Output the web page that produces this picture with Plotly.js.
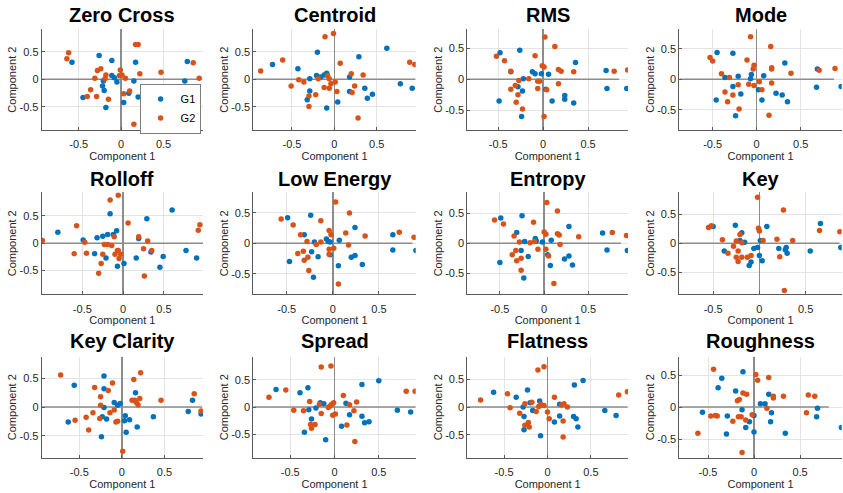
<!DOCTYPE html>
<html>
<head>
<meta charset="utf-8">
<script src="https://cdn.plot.ly/plotly-3.0.1.min.js"></script>
<style>html,body{margin:0;padding:0;background:#fff;}#chart{width:843px;height:493px;}</style>
</head>
<body>
<div id="chart"></div>
<script>
const featureTitles = ['Zero Cross','Centroid','RMS','Mode','Rolloff','Low Energy','Entropy','Key','Key Clarity','Spread','Flatness','Roughness'];
const groupNames = ['G1','G2'];
const tickValues = [-0.5, 0, 0.5];
const tickLabels = ['-0.5', '0', '0.5'];

const zeroCrossG1 = [[-0.58,0.31],[-0.26,0.43],[-0.11,0.34],[0.17,0.31],[0.78,0.32],[-0.11,0.07],[-0.08,0.03],[-0.05,-0.05],[-0.21,-0.03],[-0.22,-0.12],[-0.2,-0.2],[-0.45,-0.33],[-0.18,-0.51],[0.03,-0.42],[0.09,-0.25],[0.15,-0.03],[0.2,-0.32],[0.35,-0.19],[0.35,-0.31],[0.75,-0.03],[0.91,-0.14]];
const zeroCrossG2 = [[-0.62,0.48],[-0.64,0.37],[0.17,0.63],[0.2,0.63],[0.85,0.3],[-0.24,0.19],[-0.28,0.16],[-0.01,0.17],[-0.18,0.08],[-0.02,0.07],[0.01,0.08],[0.22,0.1],[0.47,0.13],[-0.31,0.02],[-0.19,0.01],[0.05,0.02],[0.92,0.02],[-0.36,-0.19],[-0.4,-0.31],[-0.29,-0.31],[-0.15,-0.36],[0.03,-0.26],[0.1,-0.21],[0.15,-0.81]];
const centroidG1 = [[-0.73,0.27],[-0.43,0.19],[-0.2,0.49],[0.29,0.41],[0.62,0.56],[-0.29,0.01],[-0.21,0.07],[-0.16,0.04],[-0.12,0.08],[-0.09,0.11],[0.18,0.04],[-0.29,-0.21],[-0.32,-0.37],[-0.09,-0.52],[0.04,-0.41],[0.18,-0.22],[0.36,-0.16],[0.39,-0.34],[0.45,-0.27],[0.78,-0.08],[0.92,-0.16]];
const centroidG2 = [[-0.87,0.15],[-0.61,0.35],[-0.11,0.77],[-0.01,0.83],[0.07,0.29],[0.89,0.31],[0.95,0.27],[-0.42,-0.01],[-0.36,-0.05],[-0.51,-0.12],[-0.19,0.01],[-0.08,0.07],[-0.06,0.01],[-0.04,-0.08],[-0.06,-0.16],[-0.12,-0.15],[0.01,-0.05],[0.03,-0.22],[0.2,0.1],[0.34,0.08],[0.24,-0.12],[0.21,-0.24],[-0.22,-0.28],[-0.3,-0.3],[-0.3,-0.49],[0.28,-0.7]];
const rmsG1 = [[-0.48,0.43],[-0.26,0.47],[-0.36,0.12],[-0.12,0.12],[-0.09,0.09],[-0.02,0.09],[0.06,0.08],[0.36,0.27],[0.7,0.14],[-0.22,0.01],[-0.28,-0.12],[-0.23,-0.19],[-0.49,-0.35],[-0.24,-0.6],[0.03,-0.16],[0.1,-0.35],[0.24,-0.26],[0.24,-0.32],[0.34,-0.38],[0.71,-0.15],[0.93,-0.15]];
const rmsG2 = [[-0.52,0.37],[-0.43,0.3],[0.02,0.68],[0.13,0.53],[-0.09,0.38],[-0.01,0.22],[0.01,0.2],[0.17,0.16],[0.2,0.13],[0.34,0.12],[0.79,0.13],[0.94,0.15],[-0.36,0.13],[-0.16,0.01],[-0.27,-0.02],[-0.06,-0.03],[-0.04,-0.03],[-0.06,-0.15],[-0.36,-0.16],[-0.31,-0.1],[-0.28,-0.25],[-0.3,-0.37],[-0.23,-0.48],[0.04,-0.17],[0.17,-0.07],[0.01,-0.6]];
const modeG1 = [[-0.45,0.44],[-0.27,0.43],[0.32,0.27],[0.69,0.17],[-0.36,0.03],[-0.21,0.05],[-0.06,0.08],[-0.07,0.01],[0.08,0.06],[-0.27,-0.12],[-0.18,-0.24],[0.02,-0.17],[0.06,-0.34],[0.22,-0.23],[0.29,-0.26],[0.35,-0.37],[0.68,-0.13],[0.96,-0.12],[-0.46,-0.34],[-0.24,-0.6]];
const modeG2 = [[-0.53,0.36],[-0.5,0.3],[-0.07,0.7],[0.16,0.54],[-0.11,0.32],[-0.03,0.23],[-0.04,0.17],[0.17,0.19],[0.17,0.17],[0.39,0.1],[0.71,0.15],[0.89,0.18],[-0.4,0.09],[-0.31,0.03],[0.03,-0.04],[0.17,-0.06],[-0.21,-0.09],[-0.09,-0.08],[-0.03,-0.1],[0.06,-0.17],[-0.36,-0.21],[-0.27,-0.26],[-0.33,-0.37],[-0.2,-0.49],[0.14,-0.59]];
const rolloffG1 = [[-0.8,0.2],[-0.49,0.06],[-0.32,0.1],[-0.25,0.13],[-0.19,0.16],[-0.12,0.16],[-0.08,0.23],[-0.16,0.54],[0.29,0.45],[0.6,0.61],[0.19,0.09],[-0.35,-0.19],[-0.21,-0.27],[-0.07,-0.42],[0.01,-0.37],[0.16,-0.27],[0.34,-0.16],[0.49,-0.24],[0.45,-0.44],[0.77,-0.13],[0.9,-0.27]];
const rolloffG2 = [[-0.99,0.05],[-0.57,0.32],[-0.06,0.88],[-0.16,0.79],[0.06,0.37],[0.19,0.12],[0.3,0.04],[0.94,0.34],[0.92,0.24],[-0.47,0.02],[-0.11,0.12],[-0.23,-0.02],[-0.14,-0.04],[-0.19,-0.02],[-0.07,-0.13],[-0.06,-0.13],[-0.1,-0.2],[-0.03,-0.2],[-0.05,-0.28],[-0.6,-0.19],[-0.45,-0.18],[-0.25,-0.2],[-0.27,-0.37],[-0.3,-0.55],[0.25,-0.1],[0.35,-0.13],[0.26,-0.6]];
const lowEnergyG1 = [[-0.49,0.42],[-0.24,0.46],[-0.31,0.14],[0.24,0.26],[0.65,0.14],[-0.07,0.07],[-0.05,0.03],[-0.03,0.02],[-0.2,0.02],[0.07,0.05],[-0.23,-0.14],[-0.16,-0.22],[-0.03,-0.19],[-0.47,-0.3],[-0.21,-0.56],[0.06,-0.37],[0.2,-0.23],[0.24,-0.2],[0.32,-0.35],[0.65,-0.11],[0.9,-0.12]];
const lowEnergyG2 = [[-0.56,0.4],[-0.43,0.3],[0.03,0.68],[0.18,0.5],[-0.13,0.37],[-0.04,0.21],[-0.02,0.14],[0.14,0.17],[0.35,0.12],[0.72,0.18],[0.88,0.1],[-0.35,0.14],[-0.28,0.03],[-0.18,-0.02],[-0.13,0.02],[0.17,-0.03],[0.01,-0.08],[-0.04,-0.1],[-0.04,-0.18],[-0.32,-0.13],[-0.38,-0.17],[-0.27,-0.23],[-0.31,-0.28],[-0.26,-0.45],[0.06,-0.67]];
const entropyG1 = [[-0.49,0.42],[-0.25,0.46],[-0.31,0.18],[0.28,0.28],[0.66,0.17],[-0.22,0.03],[-0.1,0.08],[-0.09,0.04],[-0.02,0.02],[0.08,0.05],[-0.26,-0.12],[-0.18,-0.22],[0.04,-0.19],[-0.5,-0.32],[-0.23,-0.58],[0.07,-0.37],[0.23,-0.26],[0.28,-0.21],[0.32,-0.36],[0.71,-0.11],[0.94,-0.12]];
const entropyG2 = [[-0.56,0.39],[-0.46,0.32],[0.03,0.68],[0.15,0.54],[-0.12,0.35],[0,0.19],[0.02,0.15],[0.15,0.16],[0.17,0.14],[0.39,0.11],[0.77,0.18],[0.93,0.13],[-0.34,0.12],[-0.28,0.02],[-0.16,0.01],[-0.11,0.03],[0.18,-0.02],[0.02,-0.1],[-0.07,-0.1],[0.05,-0.21],[-0.32,-0.12],[-0.36,-0.19],[-0.26,-0.25],[-0.31,-0.29],[-0.26,-0.45],[0.11,-0.67]];
const keyG1 = [[-0.5,0.29],[-0.26,0.31],[-0.19,0.18],[0.08,0.29],[0.66,0.34],[-0.21,0.05],[-0.16,0.02],[0.01,0.05],[-0.38,-0.13],[-0.06,-0.09],[-0.02,-0.07],[0,-0.21],[0.03,-0.3],[0.21,-0.09],[0.29,-0.07],[0.28,-0.11],[0.3,-0.17],[0.55,-0.13],[0.88,-0.07],[-0.09,-0.32],[-0.11,-0.38]];
const keyG2 = [[-0.55,0.27],[-0.52,0.3],[-0.02,0.79],[0.26,0.57],[-0.01,0.26],[0,0.21],[-0.21,0.15],[0.65,0.22],[0.87,0.2],[-0.4,0.06],[-0.25,0.04],[-0.19,0.01],[0.04,0.05],[0.19,0.07],[0.36,0.05],[-0.28,-0.05],[-0.23,-0.13],[-0.34,-0.17],[-0.25,-0.24],[-0.19,-0.24],[-0.13,-0.24],[-0.09,-0.21],[-0.23,-0.31],[0.22,-0.23],[0.27,-0.81]];
const keyClarityG1 = [[-0.56,0.38],[-0.21,0.54],[-0.21,0.32],[0.16,0.25],[0.83,0.12],[-0.09,0.08],[-0.05,0.03],[-0.02,0.06],[-0.21,-0.01],[-0.63,-0.26],[-0.23,-0.17],[-0.18,-0.21],[0.04,-0.15],[0.03,-0.24],[0.09,-0.22],[0.05,-0.44],[-0.24,-0.52],[0.18,-0.35],[0.37,-0.17],[0.78,-0.08],[0.93,-0.12]];
const keyClarityG2 = [[-0.72,0.56],[0.22,0.6],[0.14,0.48],[-0.11,0.42],[-0.32,0.34],[-0.16,0.29],[-0.25,0.18],[0.21,0.15],[0.12,0.12],[0.15,0.12],[0.17,0.08],[0.19,0.04],[0.46,0.12],[0.85,0.23],[0.93,-0.07],[-0.25,0.03],[-0.09,-0.05],[-0.14,-0.1],[-0.34,-0.1],[-0.42,-0.18],[-0.55,-0.23],[-0.26,-0.2],[-0.07,-0.26],[-0.05,-0.25],[-0.39,-0.4],[0.01,-0.77]];
const spreadG1 = [[-0.66,0.32],[-0.39,0.26],[-0.3,0.35],[0.31,0.41],[0.5,0.48],[-0.16,0.08],[-0.12,0.06],[0.13,0.07],[-0.29,-0.05],[-0.21,-0.02],[-0.26,-0.22],[0.17,-0.14],[0.31,-0.17],[0.34,-0.29],[0.39,-0.27],[0.08,-0.35],[-0.34,-0.46],[-0.1,-0.6],[0.71,-0.06],[0.86,-0.09]];
const spreadG2 = [[-0.74,0.18],[-0.55,0.31],[-0.15,0.73],[-0.04,0.75],[-0.28,0.1],[-0.17,0.05],[-0.07,-0.01],[-0.05,0.02],[-0.03,0.05],[-0.01,0.08],[0.1,0.21],[0.17,0.04],[0.25,0.09],[0.81,0.29],[0.91,0.29],[-0.46,-0.06],[-0.35,-0.07],[-0.15,-0.12],[-0.02,-0.15],[0.01,-0.13],[0.22,-0.07],[-0.27,-0.32],[-0.22,-0.32],[-0.26,-0.39],[0.14,-0.33],[0.23,-0.63]];
const flatnessG1 = [[-0.62,0.27],[-0.36,0.18],[-0.23,0.31],[-0.2,0.08],[-0.09,0.11],[-0.28,0],[-0.17,-0.06],[0.14,0.05],[0.31,0.4],[0.41,0.48],[0.66,-0.06],[0.79,-0.15],[0.14,-0.16],[0.08,-0.27],[0.3,-0.17],[0.33,-0.21],[0.35,-0.36],[-0.27,-0.17],[-0.27,-0.41],[-0.08,-0.52]];
const flatnessG2 = [[-0.77,0.13],[-0.46,0.24],[-0.11,0.67],[-0.04,0.73],[0.08,0.18],[0.82,0.22],[0.92,0.28],[-0.43,-0.01],[-0.26,0.06],[-0.18,0.09],[-0.08,0.05],[-0.1,0.01],[-0.07,0.04],[-0.04,0.03],[-0.13,-0.08],[0,-0.09],[0.02,-0.21],[0.16,0.04],[0.19,0.06],[0.23,0],[0.18,-0.25],[-0.32,-0.11],[-0.22,-0.28],[-0.26,-0.33],[-0.21,-0.36],[0.18,-0.54]];
const roughnessG1 = [[-0.35,0.45],[-0.12,0.55],[-0.39,0.3],[-0.2,0.25],[0.16,0.2],[0.07,0.05],[0.12,0.05],[-0.56,-0.08],[-0.29,-0.14],[-0.13,-0.04],[0,-0.13],[-0.05,-0.23],[-0.09,-0.32],[0,-0.39],[-0.3,-0.42],[0.19,-0.09],[0.18,-0.23],[0.34,-0.41],[0.69,-0.02],[0.68,-0.15],[0.95,-0.32]];
const roughnessG2 = [[-0.44,0.59],[0.02,0.51],[0.16,0.46],[0.04,0.42],[-0.12,0.22],[-0.08,0.2],[-0.16,0.12],[-0.18,0.1],[0.21,0.17],[0.21,0.14],[0.32,0.17],[0.59,0.19],[0.66,0.17],[0.57,-0.09],[0.14,-0.02],[-0.02,-0.12],[-0.47,-0.14],[-0.42,-0.13],[-0.4,-0.14],[-0.17,-0.15],[-0.14,-0.15],[-0.09,-0.2],[-0.23,-0.22],[-0.61,-0.41],[-0.13,-0.71]];

const seriesG1 = [zeroCrossG1, centroidG1, rmsG1, modeG1, rolloffG1, lowEnergyG1, entropyG1, keyG1, keyClarityG1, spreadG1, flatnessG1, roughnessG1];
const seriesG2 = [zeroCrossG2, centroidG2, rmsG2, modeG2, rolloffG2, lowEnergyG2, entropyG2, keyG2, keyClarityG2, spreadG2, flatnessG2, roughnessG2];

// axis limits (layout)
const xLimits = [[-0.937,0.965],[-0.957,0.961],[-0.844,0.944],[-0.879,0.966],[-0.998,0.978],[-0.862,0.898],[-0.868,0.947],[-0.866,0.89],[-0.942,0.953],[-0.917,0.917],[-0.923,0.927],[-0.812,0.953]];
const yLimits = [[-0.916,0.904],[-0.916,0.904],[-0.817,0.806],[-0.835,0.824],[-0.933,0.933],[-0.84,0.84],[-0.85,0.85],[-0.874,0.874],[-0.884,0.878],[-0.927,0.92],[-0.916,0.913],[-0.79,0.786]];

// layout geometry (px)
const W = 843, H = 493;
const colPx = [[41.7,203],[253.3,415.7],[467.3,628],[679.3,841.7]];
const rowPx = [[29.3,130],[192.3,294.3],[356.7,457.7]];
const titleCenterPx = [15, 179.3, 341.3];

const colors = ['#0072BD', '#D95319'];
const fontFam = 'Liberation Sans, Arial, Helvetica, sans-serif';
const axisColor = '#262626';
const zeroColor = '#8c8c8c';

const traces = [];
const layout = {
  width: W, height: H,
  margin: {l:0, r:0, t:0, b:0},
  paper_bgcolor: '#ffffff', plot_bgcolor: '#ffffff',
  font: {family: fontFam, size: 11, color: axisColor},
  showlegend: true,
  legend: {
    x: 201/W, y: 1 - 84/H, xanchor: 'right', yanchor: 'top',
    bgcolor: '#ffffff', bordercolor: axisColor, borderwidth: 0.6,
    font: {family: fontFam, size: 11, color: '#000'},
    itemwidth: 30, tracegroupgap: 0
  },
  annotations: [], shapes: []
};

featureTitles.forEach((title, i) => {
  const r = Math.floor(i / 4), c = i % 4;
  const n = i + 1;
  const xa = n === 1 ? 'x' : 'x' + n;
  const ya = n === 1 ? 'y' : 'y' + n;
  const xKey = n === 1 ? 'xaxis' : 'xaxis' + n;
  const yKey = n === 1 ? 'yaxis' : 'yaxis' + n;
  const common = {
    showgrid: true, gridcolor: '#e3e3e3', gridwidth: 1,
    showline: true, linecolor: '#5a5a5a', linewidth: 1,
    ticks: 'inside', ticklen: 3, tickcolor: '#5a5a5a',
    tickvals: tickValues, ticktext: tickLabels,
    tickfont: {family: fontFam, size: 11, color: axisColor},
    fixedrange: true
  };
  layout[xKey] = Object.assign({}, common, {
    domain: [colPx[c][0]/W, colPx[c][1]/W],
    range: xLimits[i], anchor: ya,
    ticklabelstandoff: 4,
    zeroline: true, zerolinecolor: zeroColor, zerolinewidth: 1.5,
    title: {text: 'Component 1', font: {family: fontFam, size: 11, color: axisColor}, standoff: 1}
  });
  layout[yKey] = Object.assign({}, common, {
    domain: [1 - rowPx[r][1]/H, 1 - rowPx[r][0]/H],
    range: yLimits[i], anchor: xa,
    zeroline: false,
    title: {text: 'Component 2', font: {family: fontFam, size: 11, color: axisColor}, standoff: 0}
  });
  layout.shapes.push({
    type: 'line', xref: xa, yref: ya, layer: 'between',
    x0: xLimits[i][0], x1: Math.min(-xLimits[i][0], xLimits[i][1]), y0: 0, y1: 0,
    line: {color: zeroColor, width: 1.5}
  });
  layout.annotations.push({
    text: '<b>' + title + '</b>', xref: 'paper', yref: 'paper',
    x: (colPx[c][0] + colPx[c][1]) / 2 / W, y: 1 - titleCenterPx[r]/H,
    xanchor: 'center', yanchor: 'middle', showarrow: false,
    font: {family: fontFam, size: 20, color: '#000'}
  });
  [seriesG1[i], seriesG2[i]].forEach((pts, g) => {
    traces.push({
      type: 'scatter', mode: 'markers',
      x: pts.map(p => p[0]), y: pts.map(p => p[1]),
      xaxis: xa, yaxis: ya,
      name: groupNames[g], legendgroup: groupNames[g], showlegend: i === 0,
      marker: {color: colors[g], size: 5.5, line: {width: 0}},
      hoverinfo: 'x+y'
    });
  });
});

Plotly.newPlot('chart', traces, layout, {displayModeBar: false, staticPlot: true});
</script>
</body>
</html>
